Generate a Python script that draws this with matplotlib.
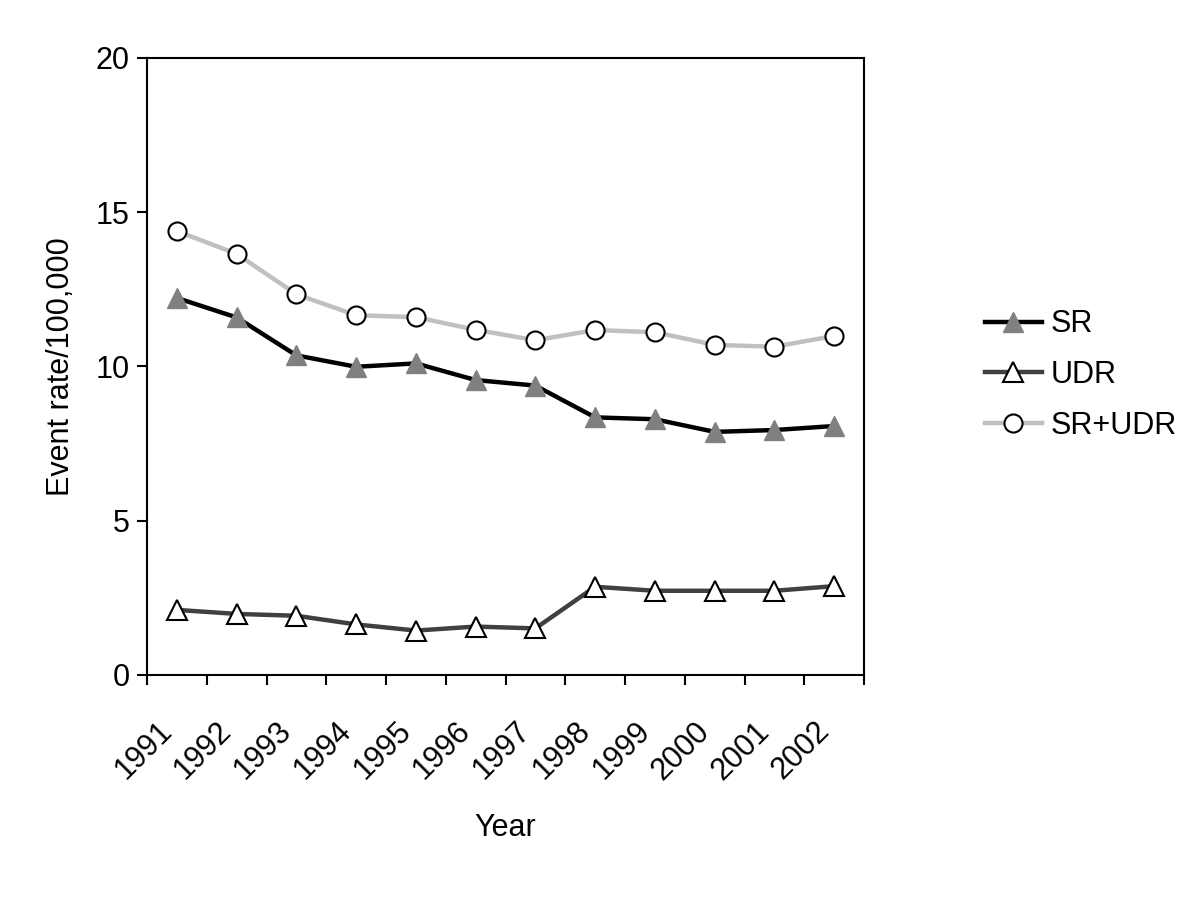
import numpy as np
import matplotlib.pyplot as plt
from matplotlib.transforms import ScaledTranslation

plt.rcParams['font.family'] = ['Liberation Sans', 'DejaVu Sans']

# data
years = ['1991', '1992', '1993', '1994', '1995', '1996',
         '1997', '1998', '1999', '2000', '2001', '2002']
sr = [12.22, 11.59, 10.36, 9.99, 10.10, 9.56, 9.38, 8.35, 8.29, 7.88, 7.94, 8.07]
udr = [2.11, 1.98, 1.92, 1.64, 1.44, 1.57, 1.51, 2.86, 2.73, 2.73, 2.73, 2.88]
sr_udr = [14.39, 13.65, 12.34, 11.66, 11.60, 11.19, 10.85, 11.18, 11.11, 10.70, 10.64, 10.99]

fig = plt.figure(figsize=(12, 9), dpi=100)
ax = fig.add_axes([0.1225, 0.25, 0.5975, 0.6856])

x = np.arange(len(years))

ax.plot(x, sr, color='black', lw=3.2, marker='^', ms=15,
        markerfacecolor='#808080', markeredgecolor='#808080', label='SR', zorder=3)
ax.plot(x, udr, color='#404040', lw=3.2, marker='^', ms=15,
        markerfacecolor='white', markeredgecolor='black', markeredgewidth=1.5,
        label='UDR', zorder=3)
ax.plot(x, sr_udr, color='#c0c0c0', lw=3.2, marker='o', ms=13,
        markerfacecolor='white', markeredgecolor='black', markeredgewidth=1.5,
        label='SR+UDR', zorder=3)

ax.set_xlim(-0.5, len(years) - 0.5)
ax.set_ylim(0, 20)
ax.set_yticks([0, 5, 10, 15, 20])
ax.set_xticks(np.arange(len(years) + 1) - 0.5)
ax.set_xticklabels([])
ax.set_xticks(x, minor=True)
ax.set_xticklabels(years, minor=True, rotation=45, ha='right',
                   rotation_mode='anchor', fontsize=22)
ax.tick_params(axis='x', which='minor', length=0, pad=8)
ax.tick_params(axis='x', which='major', length=7.5, width=1.5, direction='out')
ax.tick_params(axis='y', length=7.5, width=1.5, direction='out', labelsize=22, pad=5)
for s in ax.spines.values():
    s.set_linewidth(1.5)

# shift the rotated year labels down and left as in the original
shift = ScaledTranslation(-0.2, -0.3, fig.dpi_scale_trans)
for lbl in ax.get_xticklabels(minor=True):
    lbl.set_transform(lbl.get_transform() + shift)

ax.set_ylabel('Event rate/100,000', fontsize=22, labelpad=14)
ax.set_xlabel('Year', fontsize=22, labelpad=20)

ax.legend(loc='center left', bbox_to_anchor=(1.169, 0.486), frameon=False,
          fontsize=22, handlelength=1.85, handletextpad=0.28, labelspacing=0.68,
          borderpad=0, borderaxespad=0)

fig.savefig('out.png', dpi=100)
